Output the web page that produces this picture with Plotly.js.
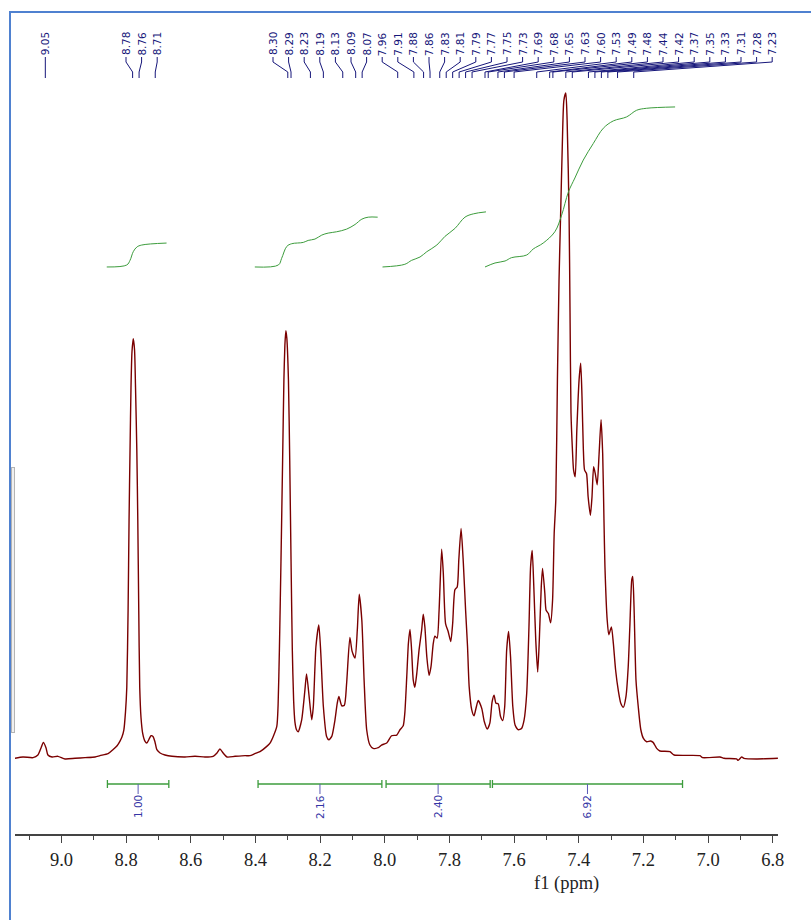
<!DOCTYPE html>
<html><head><meta charset="utf-8">
<script src="https://cdn.plot.ly/plotly-3.0.1.min.js"></script>
<style>
html,body{margin:0;padding:0;background:#fff;}
#chart{width:811px;height:920px;position:absolute;left:0;top:0;}
#frameL{position:absolute;left:9px;top:11px;width:2px;height:909px;background:#4f81d0;}
#frameT{position:absolute;left:9px;top:11px;width:802px;height:2px;background:#4f81d0;}
#side{position:absolute;left:11px;top:467px;width:2px;height:264px;border:1px solid #b4b4b4;background:#f0f0f0;}
</style></head><body>
<div id="chart"></div>
<div id="frameL"></div><div id="frameT"></div><div id="side"></div>
<script>
// ---- spectrum (ppm, relative intensity) ----
const ppm = [
9.144,9.119,9.088,9.073,9.063,9.056,9.048,9.042,9.029,9.011,
8.989,8.958,8.927,8.896,8.881,8.856,8.841,8.828,8.819,8.813,
8.807,8.802,8.798,8.794,8.791,8.788,8.785,8.782,8.778,8.774,
8.771,8.767,8.764,8.761,8.758,8.754,8.749,8.742,8.736,8.729,
8.723,8.717,8.711,8.705,8.695,8.680,8.658,8.618,8.587,8.556,
8.531,8.519,8.510,8.500,8.488,8.463,8.432,8.417,8.402,8.386,
8.365,8.355,8.345,8.334,8.330,8.326,8.321,8.316,8.312,8.309,
8.306,8.303,8.298,8.294,8.290,8.286,8.282,8.278,8.273,8.268,
8.257,8.247,8.242,8.234,8.226,8.221,8.213,8.204,8.198,8.190,
8.180,8.173,8.164,8.154,8.147,8.142,8.133,8.125,8.118,8.108,
8.101,8.092,8.085,8.079,8.071,8.064,8.056,8.046,8.036,8.020,
8.010,7.994,7.979,7.963,7.953,7.943,7.938,7.932,7.927,7.922,
7.917,7.912,7.907,7.901,7.894,7.886,7.881,7.876,7.870,7.863,
7.857,7.850,7.845,7.838,7.832,7.824,7.819,7.812,7.804,7.796,
7.790,7.783,7.776,7.771,7.764,7.757,7.750,7.744,7.739,7.731,
7.724,7.718,7.711,7.700,7.692,7.683,7.675,7.668,7.662,7.656,
7.649,7.642,7.635,7.629,7.623,7.617,7.611,7.604,7.597,7.587,
7.577,7.569,7.561,7.554,7.549,7.544,7.539,7.533,7.527,7.522,
7.516,7.512,7.505,7.501,7.494,7.487,7.481,7.476,7.471,7.466,
7.461,7.456,7.451,7.446,7.440,7.436,7.430,7.427,7.424,7.420,
7.416,7.411,7.406,7.399,7.394,7.390,7.386,7.382,7.376,7.371,
7.364,7.359,7.354,7.349,7.343,7.337,7.331,7.326,7.322,7.319,
7.312,7.307,7.299,7.293,7.286,7.278,7.270,7.262,7.254,7.247,
7.242,7.236,7.233,7.229,7.223,7.216,7.208,7.200,7.190,7.178,
7.170,7.159,7.149,7.118,7.105,7.025,7.017,6.963,6.951,6.912,
6.907,6.896,6.889,6.850,6.784
];
const intensity = [
-0.2,0,-0.1,0.3,1.4,2.2,1.4,0.3,0,0.1,
-0.3,-0.2,-0.1,0,0.2,0.5,1.1,1.7,2.4,3.0,
4.1,6.8,10.5,22.1,35.7,46.2,55.7,61.0,63.0,61.3,
55.7,46.2,35.7,22.1,10.5,5.9,3.6,2.4,2.1,2.7,
3.2,3.1,2.3,1.1,0.6,0.3,0.1,0,0.1,0,
0.1,0.6,1.2,0.6,0,0.1,0.2,0.2,0.5,0.8,
1.6,2.1,3.1,4.6,7.8,16.1,29.7,44.7,56.8,62.0,
64.2,63.1,56.8,44.7,29.7,16.1,8.6,5.3,4.1,3.8,
5.6,10.1,12.5,9.1,5.6,7.6,16.6,19.9,15.7,7.6,
3.1,2.6,3.1,5.6,8.1,9.1,7.7,7.8,11.1,18.0,
15.9,14.9,19.1,24.5,20.6,11.6,4.1,1.8,1.3,1.4,
1.8,2.1,3.2,3.3,4.1,4.7,6.6,12.1,17.1,19.2,
16.1,11.6,10.5,12.6,16.1,19.1,21.5,19.6,15.1,12.3,
13.6,17.1,18.2,17.9,22.1,31.3,27.7,20.1,18.9,17.4,
20.1,25.2,25.6,29.7,34.4,29.2,22.1,16.6,10.6,7.1,
6.2,7.3,8.5,7.3,5.3,4.2,5.1,8.3,9.3,8.1,
8.0,6.1,5.5,7.6,16.1,18.9,15.1,7.6,4.8,4.1,
4.3,5.6,9.6,19.6,28.7,31.1,25.6,17.6,12.8,17.6,
25.6,28.4,24.7,22.1,21.6,20.2,23.6,33.7,38.7,56.8,
71.8,81.9,91.9,98.9,100.0,95.9,81.9,66.9,51.8,46.7,
43.2,42.2,49.2,56.8,59.3,54.3,46.7,43.2,42.7,39.2,
36.4,39.2,43.7,42.7,41.0,45.7,50.8,45.7,35.7,28.7,
20.6,18.4,19.6,17.1,13.1,10.1,8.1,7.5,9.1,13.6,
19.6,26.7,27.2,22.6,11.6,7.6,4.1,2.8,2.3,2.4,
2.2,1.3,0.9,0.8,0.3,0.2,-0.1,0.0,-0.2,-0.3,
-0.5,0.0,-0.2,-0.3,-0.2
];

// ---- integral curves ----
const int1Ppm = [8.860,8.798,8.788,8.778,8.767,8.752,8.675];
const int1Val = [73.8,74.1,74.8,76.1,76.8,77.1,77.4];
const int2Ppm = [8.402,8.329,8.319,8.303,8.288,8.252,8.237,8.216,8.195,8.175,8.149,8.118,8.092,8.071,8.051,8.022];
const int2Val = [73.8,74.1,75.1,76.9,77.3,77.5,77.8,78.0,78.6,78.9,79.1,79.5,80.2,81.0,81.3,81.3];
const int3Ppm = [8.007,7.938,7.917,7.891,7.870,7.839,7.814,7.783,7.752,7.726,7.687];
const int3Val = [73.8,74.2,74.8,75.3,76.1,77.1,78.4,79.6,81.3,81.8,82.1];
const int4Ppm = [7.690,7.659,7.628,7.608,7.561,7.541,7.510,7.474,7.453,7.432,7.412,7.386,7.355,7.324,7.293,7.252,7.221,7.190,7.102];
const int4Val = [73.8,74.4,74.7,75.2,75.6,76.5,77.4,79.1,81.6,85.1,87.2,89.9,92.4,94.7,95.8,96.4,97.4,97.7,97.9];

// ---- integral ranges and values ----
const intFrom = [8.858, 8.392, 7.996, 7.667];
const intTo   = [8.668, 8.009, 7.674, 7.079];
const intValue = [1.00, 2.16, 2.40, 6.92];

// ---- peak picks ----
const peakPpm = [9.05,8.78,8.76,8.71,8.30,8.29,8.23,8.19,8.13,8.09,8.07,7.96,7.91,7.88,7.86,7.83,7.81,7.79,7.77,7.75,7.73,7.69,7.68,7.65,7.63,7.60,7.53,7.49,7.48,7.44,7.42,7.37,7.35,7.33,7.31,7.28,7.23];

// ---- layout geometry ----
const W = 811, H = 920;
const M = {l:15, r:33, t:12, b:86};
const plotW = W - M.l - M.r, plotH = H - M.t - M.b;
const X_RANGE = [9.1438, 6.7837];
const Y_RANGE = [-11.6, 112.2];
function vAt(py){ return Y_RANGE[1] - (py - M.t) * (Y_RANGE[1] - Y_RANGE[0]) / plotH; }
function xAt(px){ return X_RANGE[0] + (px - M.l) * (X_RANGE[1] - X_RANGE[0]) / plotW; }
function paperY(py){ return (H - M.b - py) / plotH; }

const labelGroups = [{n:1, px:null}, {n:3, px:126}, {n:33, px:273}];
const slotSpacing = 15.6;

const PEAK_COLOR = '#16167a';
const INT_COLOR = '#3c9c3c';
const INT_LABEL = '#3535a5';
const SERIF = 'Liberation Serif';

const shapes = [];
const annotations = [];

// peak labels
let idx = 0;
labelGroups.forEach(g => {
  for (let k = 0; k < g.n; k++, idx++) {
    const p = peakPpm[idx];
    const sx = g.px === null ? p : xAt(g.px + k * slotSpacing);
    annotations.push({x: sx, y: vAt(44), xref:'x', yref:'y', text: p.toFixed(2), showarrow:false,
      textangle:-90, xanchor:'center', yanchor:'middle',
      font:{family:'DejaVu Sans', size:10.5, color:PEAK_COLOR}});
    shapes.push({type:'path', xref:'x', yref:'y',
      path:`M ${sx},${vAt(57)} L ${sx},${vAt(62)} L ${p},${vAt(72)} L ${p},${vAt(78)}`,
      line:{color:PEAK_COLOR, width:1}});
  }
});

// integral bars
for (let i = 0; i < intFrom.length; i++) {
  const a = intFrom[i], b = intTo[i], mid = (a + b) / 2;
  shapes.push({type:'line', xref:'x', yref:'y', x0:a, x1:b, y0:vAt(784), y1:vAt(784), line:{color:INT_COLOR, width:1.3}});
  shapes.push({type:'line', xref:'x', yref:'y', x0:a, x1:a, y0:vAt(780), y1:vAt(788), line:{color:INT_COLOR, width:1.3}});
  shapes.push({type:'line', xref:'x', yref:'y', x0:b, x1:b, y0:vAt(780), y1:vAt(788), line:{color:INT_COLOR, width:1.3}});
  shapes.push({type:'line', xref:'x', yref:'y', x0:mid, x1:mid, y0:vAt(784), y1:vAt(794), line:{color:'#5a5ab5', width:1}});
  annotations.push({x: mid, y: vAt(807), xref:'x', yref:'y', text: intValue[i].toFixed(2), showarrow:false,
    textangle:-90, xanchor:'center', yanchor:'middle',
    font:{family:'DejaVu Sans', size:10.5, color:INT_LABEL}});
}

// axis title (placed where the original has it)
annotations.push({x: (566 - M.l) / plotW, y: paperY(883), xref:'paper', yref:'paper', text:'f1 (ppm)', showarrow:false,
  xanchor:'center', yanchor:'middle', font:{family:SERIF, size:18.5, color:'#222'}});

const traces = [
  {x: ppm, y: intensity, type:'scatter', mode:'lines', line:{color:'#7a0000', width:1.4, shape:'spline', smoothing:0.6}, hoverinfo:'skip'},
  {x: int1Ppm, y: int1Val, type:'scatter', mode:'lines', line:{color:INT_COLOR, width:1, shape:'spline'}, hoverinfo:'skip'},
  {x: int2Ppm, y: int2Val, type:'scatter', mode:'lines', line:{color:INT_COLOR, width:1, shape:'spline'}, hoverinfo:'skip'},
  {x: int3Ppm, y: int3Val, type:'scatter', mode:'lines', line:{color:INT_COLOR, width:1, shape:'spline'}, hoverinfo:'skip'},
  {x: int4Ppm, y: int4Val, type:'scatter', mode:'lines', line:{color:INT_COLOR, width:1, shape:'spline'}, hoverinfo:'skip'}
];

const layout = {
  width: W, height: H, margin: M,
  paper_bgcolor:'rgba(0,0,0,0)', plot_bgcolor:'rgba(0,0,0,0)',
  showlegend:false,
  xaxis:{range:X_RANGE, showgrid:false, zeroline:false, showline:true, linecolor:'#444', linewidth:1.5,
    ticks:'outside', ticklen:7, tickwidth:1, tickcolor:'#444', tick0:0, dtick:0.2, tickformat:'.1f',
    ticklabelstandoff:1,
    tickfont:{family:SERIF, size:18.5, color:'#222'},
    minor:{ticks:'outside', ticklen:4, tickwidth:1, tickcolor:'#444', dtick:0.1}},
  yaxis:{range:Y_RANGE, visible:false, fixedrange:true},
  shapes: shapes,
  annotations: annotations
};
Plotly.newPlot('chart', traces, layout, {staticPlot:true, displayModeBar:false});
</script>
</body></html>
